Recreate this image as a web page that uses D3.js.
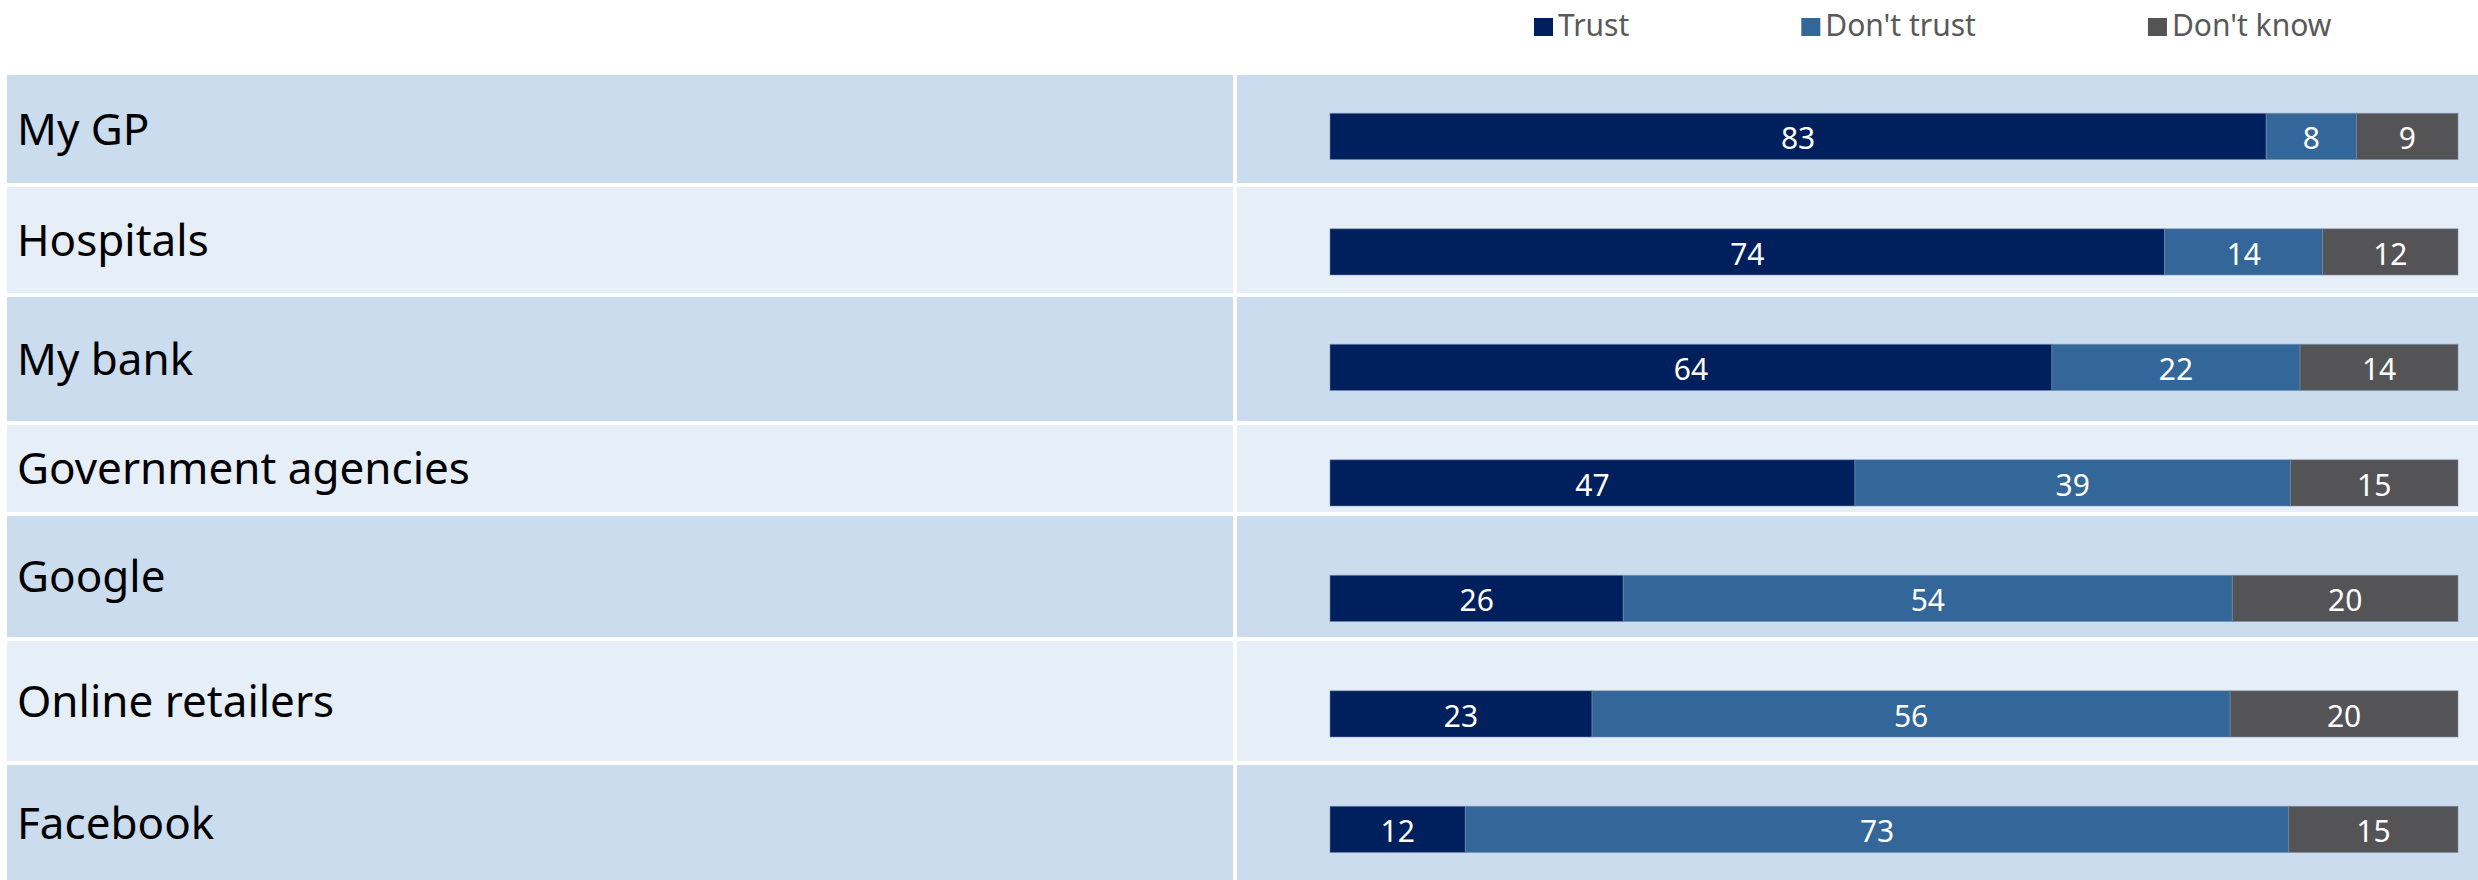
<!DOCTYPE html>
<html>
<head>
<meta charset="utf-8">
<script src="https://cdn.jsdelivr.net/npm/d3@7"></script>
<style>
  html, body { margin: 0; padding: 0; background: #ffffff; }
  svg { display: block; }
</style>
</head>
<body>
<svg id="chart" width="2478" height="880"></svg>
<script>
// ---- data ----
const categories = ["My GP", "Hospitals", "My bank", "Government agencies", "Google", "Online retailers", "Facebook"];
const seriesNames = ["Trust", "Don't trust", "Don't know"];
const trustValues = [83, 74, 64, 47, 26, 23, 12];
const dontTrustValues = [8, 14, 22, 39, 54, 56, 73];
const dontKnowValues = [9, 12, 14, 15, 20, 20, 15];

// ---- style / layout ----
const W = 2478, H = 880;
const colors = ["#001f5d", "#336699", "#545456"];
const bandDark = "#cbdcee", bandLight = "#e6eef7";
const tableTop = 75, tableGap = 4;
const tableRowHeights = [108, 106, 124, 87, 121, 120, 116];
const tableLeft = 7, tableDivider = 1233, tableDividerW = 4;

const svg = d3.select("#chart");

const rows = categories.map((c, i) => ({
  category: c,
  "Trust": trustValues[i],
  "Don't trust": dontTrustValues[i],
  "Don't know": dontKnowValues[i]
}));

const stack = d3.stack().keys(seriesNames).offset(d3.stackOffsetExpand);
const stacked = stack(rows);

const x = d3.scaleLinear().domain([0, 1]).range([1330, 2458]);
const y = d3.scaleBand().domain(categories).range([78.65, 887.15])
  .paddingInner(0.6).paddingOuter(0.3);

// table background rows
let acc = tableTop;
const tableRows = tableRowHeights.map((h, i) => {
  const r = { top: acc, h: h, i: i, category: categories[i] };
  acc += h + tableGap;
  return r;
});

const tbl = svg.append("g");
tbl.selectAll("rect.left").data(tableRows).join("rect")
  .attr("class", "left")
  .attr("x", tableLeft).attr("y", d => d.top)
  .attr("width", tableDivider - tableLeft).attr("height", d => d.h)
  .attr("fill", d => d.i % 2 === 0 ? bandDark : bandLight);
tbl.selectAll("rect.right").data(tableRows).join("rect")
  .attr("class", "right")
  .attr("x", tableDivider + tableDividerW).attr("y", d => d.top)
  .attr("width", W - tableDivider - tableDividerW).attr("height", d => d.h)
  .attr("fill", d => d.i % 2 === 0 ? bandDark : bandLight);

// category labels
tbl.selectAll("text.cat").data(tableRows).join("text")
  .attr("class", "cat")
  .attr("x", 17)
  .attr("y", d => d.top + d.h / 2 + 15.5)
  .attr("font-family", "'Noto Sans', 'Open Sans', sans-serif")
  .attr("font-size", 44)
  .attr("fill", "#000000")
  .text(d => d.category);

// bars
const barG = svg.append("g");
const series = barG.selectAll("g.series").data(stacked).join("g")
  .attr("class", "series")
  .attr("fill", (d, i) => colors[i]);

series.selectAll("rect").data(d => d.map(p => ({ p, key: d.key }))).join("rect")
  .attr("x", d => x(d.p[0]))
  .attr("y", d => y(d.p.data.category))
  .attr("width", d => x(d.p[1]) - x(d.p[0]))
  .attr("height", y.bandwidth())
  .attr("stroke", "rgba(120,140,170,0.55)")
  .attr("stroke-width", 1);

series.selectAll("text").data(d => d.map(p => ({ p, key: d.key }))).join("text")
  .attr("x", d => (x(d.p[0]) + x(d.p[1])) / 2)
  .attr("y", d => y(d.p.data.category) + y.bandwidth() / 2)
  .attr("dy", "0.42em")
  .attr("text-anchor", "middle")
  .attr("font-family", "'Noto Sans', 'Open Sans', sans-serif")
  .attr("font-size", 30)
  .attr("fill", "#ffffff")
  .text(d => d.p.data[d.key]);

// legend
const legend = svg.append("g");
let lx = 1534;
seriesNames.forEach((name, i) => {
  const g = legend.append("g").attr("transform", `translate(${lx},0)`);
  g.append("rect").attr("x", 0).attr("y", 18).attr("width", 19).attr("height", 18)
    .attr("fill", colors[i]);
  const t = g.append("text").attr("x", 24).attr("y", 36)
    .attr("font-family", "'Noto Sans', 'Open Sans', sans-serif")
    .attr("font-size", 30)
    .attr("fill", "#595959")
    .text(name);
  const tw = t.node().getComputedTextLength();
  lx += 24 + tw + 172;
});
</script>
</body>
</html>
